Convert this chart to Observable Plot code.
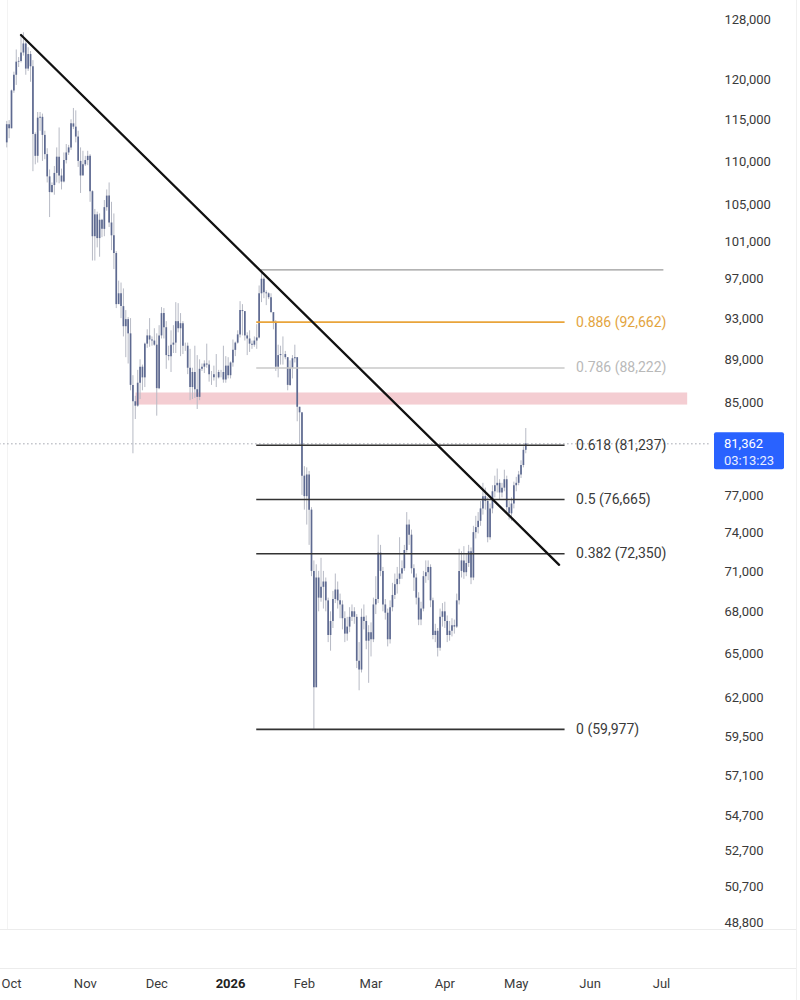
<!DOCTYPE html>
<html><head><meta charset="utf-8">
<script src="https://cdn.jsdelivr.net/npm/d3@7"></script>
<script src="https://cdn.jsdelivr.net/npm/@observablehq/plot@0.6"></script>
<style>body{margin:0;background:#fff;font-family:Roboto,sans-serif}</style>
</head><body><div id="chart"></div>
<script>
// Daily BTC candles (thousands USD), Sep 29 2025 .. May 5 2026
const firstDay = "2025-09-29";
const firstOpen = 112.2;
const closes = [
114.4,113.9,
118.6,120.6,122.3,122.4,123.5,124.7,121.4,123.3,121.7,113.2,110.6,115.2,115.3,113.1,110.8,108.2,106.4,107.2,108.6,110.5,108.3,107.6,110.1,111.0,111.6,114.5,114.1,112.9,110.0,108.3,109.6,
110.1,110.6,106.5,101.5,103.9,101.3,103.3,102.3,104.7,106.0,103.0,101.6,99.7,94.4,95.5,94.2,92.2,92.9,91.5,86.6,85.1,84.7,86.8,88.3,87.3,90.5,91.3,90.9,90.8,90.4,
86.3,91.3,93.5,92.1,89.4,89.3,90.4,90.6,92.7,92.0,92.5,90.3,90.3,88.2,86.4,87.8,86.2,85.5,88.1,88.3,88.6,88.5,87.6,87.6,87.3,87.3,87.8,87.8,87.1,88.4,87.5,
88.7,89.9,90.6,91.4,93.8,93.7,91.3,91.0,90.5,90.4,90.8,91.1,95.5,97.0,95.6,95.5,95.1,93.6,92.6,88.3,89.4,89.5,89.5,89.2,86.6,88.2,89.1,89.2,84.6,84.1,78.6,
76.9,78.7,75.8,71.0,62.7,70.5,69.0,69.8,70.2,68.8,66.3,67.3,68.9,69.6,68.8,68.5,67.5,66.4,66.9,67.6,68.0,67.6,64.5,63.9,67.6,67.3,65.9,66.5,
66.0,68.5,68.9,72.4,71.0,68.5,67.9,66.0,68.3,69.2,70.0,70.4,70.8,71.2,72.6,74.6,73.8,71.2,70.5,69.0,67.4,68.2,70.6,70.9,71.3,68.8,66.3,66.6,65.4,67.6,68.0,
67.3,66.3,66.6,67.0,66.9,68.8,71.0,71.8,70.9,71.6,72.5,70.5,74.0,74.4,74.9,75.9,76.9,76.5,73.6,75.9,77.3,77.8,78.0,77.2,77.6,78.3,76.0,75.5,76.3,77.8,
78.0,78.7,79.5,80.8,81.362];
const highs = [
114.8,114.9,
118.7,121.0,123.9,122.9,125.7,126.2,125.0,124.2,123.7,122.5,113.4,115.9,115.9,115.7,113.6,111.5,109.0,107.5,109.4,111.6,114.0,109.1,111.0,112.0,111.9,115.0,116.4,116.1,113.6,111.6,111.2,
110.6,111.2,110.8,106.6,104.5,104.2,104.0,103.4,105.5,106.7,107.5,105.3,104.0,99.9,96.8,96.6,96.0,93.8,93.1,93.0,87.5,85.6,88.0,89.0,88.5,90.6,91.9,93.0,91.2,92.0,
91.5,92.3,94.1,94.0,92.7,90.3,91.8,92.3,94.6,94.5,93.5,92.7,90.6,90.6,90.0,88.2,90.3,89.4,89.0,88.6,88.9,90.5,88.9,87.9,88.4,89.5,88.0,88.0,90.3,89.3,89.2,
88.8,90.9,90.7,91.8,94.7,94.4,93.7,91.6,91.8,90.8,91.2,92.4,96.3,97.96,97.2,95.8,95.6,95.5,93.5,92.8,90.4,90.3,91.2,89.8,89.2,88.9,89.4,90.4,89.2,84.6,84.0,
79.4,79.3,79.0,76.0,71.8,71.5,71.0,72.0,71.0,70.5,69.0,68.0,69.5,70.8,70.2,69.3,68.8,68.0,67.6,68.3,68.5,68.3,67.8,65.8,68.2,68.5,67.7,67.0,
67.2,69.0,70.6,73.8,73.0,71.3,68.9,68.2,68.8,70.1,70.8,71.3,73.6,71.8,73.0,75.6,75.0,74.2,71.5,70.8,69.4,68.7,71.0,71.8,71.8,71.5,69.0,67.1,66.8,68.2,68.6,
68.7,67.7,67.3,67.5,67.4,69.3,72.7,72.5,72.9,72.3,73.0,72.8,74.5,75.3,75.6,76.5,78.0,77.6,76.8,76.3,77.8,78.6,79.2,78.3,78.0,79.1,78.6,76.5,76.8,78.1,
78.5,79.0,79.9,81.1,82.7];
const lows = [
111.6,112.7,
113.9,118.3,119.3,121.6,122.2,123.1,120.6,121.1,119.7,108.8,109.6,109.8,113.6,110.0,110.2,107.5,103.6,106.3,106.1,107.5,107.4,106.7,107.5,109.7,110.7,111.3,113.8,112.2,109.3,106.3,108.4,
109.4,109.5,105.3,98.9,98.9,100.3,99.3,101.4,101.5,104.3,102.5,100.0,98.0,94.0,94.6,93.0,91.2,89.2,88.6,86.1,80.5,83.5,84.6,85.3,86.1,86.4,90.1,90.2,90.3,90.3,
83.8,86.2,91.0,91.0,88.1,88.9,87.8,89.6,89.6,91.6,89.3,89.5,89.8,87.6,85.2,85.3,85.4,84.4,85.2,87.9,87.7,88.2,86.9,86.6,87.0,86.4,87.2,87.3,86.8,86.8,87.2,
87.2,88.3,89.3,90.5,91.1,91.3,90.8,89.4,89.7,90.0,90.2,90.0,91.0,94.6,95.0,94.3,94.9,93.5,91.9,87.9,87.3,88.5,88.5,89.0,86.1,86.5,87.2,88.7,83.3,81.2,77.0,
75.8,74.6,73.0,70.6,59.98,63.0,68.0,68.7,68.2,68.0,65.8,65.2,66.8,68.6,68.2,67.5,66.7,65.8,65.9,66.5,67.3,67.1,64.0,62.5,63.7,66.7,65.3,63.0,
64.8,65.8,67.8,68.6,70.6,68.0,67.4,65.5,65.7,68.0,68.9,69.3,70.0,70.4,71.0,72.4,73.0,70.8,69.5,68.5,67.0,67.0,68.0,70.1,70.3,68.3,66.0,65.8,64.8,65.2,66.9,
66.8,65.8,65.9,66.2,66.4,66.8,68.5,70.5,70.4,70.6,71.3,70.0,70.3,73.5,73.9,74.5,75.4,75.8,73.2,73.4,75.5,76.8,77.2,76.6,76.8,77.3,75.6,75.0,74.9,75.9,
77.3,77.8,78.4,79.3,80.5];

// Fibonacci retracement levels
const fibRatios = ["0.886", "0.786", "0.618", "0.5", "0.382", "0"];
const fibValues = [92662, 88222, 81237, 76665, 72350, 59977];
const fibColors = ["#e9a43a", "#c9c9c9", "#333333", "#333333", "#333333", "#333333"];
const fibLabelColors = ["#e3a43e", "#b9b9b9", "#3a3a3a", "#3a3a3a", "#3a3a3a", "#3a3a3a"];
const fibTop = 97964;
const fibStart = "2026-01-12";
const fibEnd = "2026-05-21T12:00Z";
const fibTopStart = "2026-01-14";
const fibTopEnd = "2026-07-02";

// Resistance zone
const zoneLow = 84800, zoneHigh = 85900;
const zoneStart = "2025-11-22T06:00Z", zoneEnd = "2026-07-12";

// Descending trendline
const trendDates = ["2025-10-05", "2026-05-19"];
const trendValues = [125900, 71500];

// Current price
const lastPrice = 81362;
const countdown = "03:13:23";

// Axes
const yTicks = [128000,120000,115000,110000,105000,101000,97000,93000,89000,85000,77000,74000,71000,68000,65000,62000,59500,57100,54700,52700,50700,48800];
const monthTicks = ["2025-10-01","2025-11-01","2025-12-01","2026-02-01","2026-03-01","2026-04-01","2026-05-01","2026-06-01","2026-07-01"];
const yearTick = ["2026-01-01"];
const yearLabel = "2026";

// ---- build ----
const t0 = new Date(firstDay + "T00:00Z").getTime();
const candles = closes.map((c, i) => ({
  date: new Date(t0 + i * 864e5),
  open: (i === 0 ? firstOpen : closes[i - 1]) * 1000,
  close: c * 1000,
  high: highs[i] * 1000,
  low: lows[i] * 1000
}));
const D = s => new Date(s.length <= 10 ? s + "T00:00Z" : s);
const fibs = fibValues.map((v, i) => ({
  value: v, ratio: fibRatios[i], color: fibColors[i], lcolor: fibLabelColors[i],
  label: `${fibRatios[i]} (${d3.format(",")(v)})`
}));
const trend = trendDates.map((d, i) => ({date: D(d), value: trendValues[i]}));

const chart = Plot.plot({
  width: 800, height: 1000,
  marginLeft: 0, marginRight: 80, marginTop: 0, marginBottom: 30,
  style: {fontFamily: "Roboto, sans-serif", background: "#fff", overflow: "visible"},
  x: {type: "utc", domain: [D("2025-10-01"), D("2026-07-01")], range: [11, 661], label: null},
  y: {type: "log", domain: [48800, 128000], range: [922, 19], label: null},
  color: {type: "identity"},
  marks: [
    Plot.rect([{}], {x1: D(zoneStart), x2: D(zoneEnd), y1: zoneLow, y2: zoneHigh, fill: "#f4cdd2"}),
    Plot.ruleY([lastPrice], {x1: D("2025-09-26"), x2: D("2026-07-22"), stroke: "#a0a4ad", strokeWidth: 1, strokeDasharray: "1.5,2.5"}),
    Plot.ruleX(candles, {x: "date", y1: "low", y2: "high", stroke: "#b7bac5", strokeWidth: 1}),
    Plot.ruleX(candles, {x: "date", y1: "open", y2: "close", stroke: "#5e6a91", strokeWidth: 1.7}),
    Plot.ruleY([fibTop], {x1: D(fibTopStart), x2: D(fibTopEnd), stroke: "#9a9a9a", strokeWidth: 1.2}),
    Plot.ruleY(fibs, {y: "value", x1: D(fibStart), x2: D(fibEnd), stroke: "color", strokeWidth: d => d.ratio === "0.886" ? 1.8 : 1.6}),
    Plot.text(fibs, {y: "value", x: () => D(fibEnd), text: "label", fill: "lcolor", dx: 11, textAnchor: "start", fontSize: 14}),
    Plot.line(trend, {x: "date", y: "value", stroke: "#111", strokeWidth: 2.3}),
    Plot.axisY(yTicks, {anchor: "right", tickSize: 0, tickPadding: 4, tickFormat: d3.format(","), fontSize: 13, fill: "#3a3a3a", label: null}),
    Plot.axisX(monthTicks.map(D), {tickSize: 0, tickPadding: 8, tickFormat: d3.utcFormat("%b"), fontSize: 13, fill: "#3a3a3a", label: null}),
    Plot.axisX(yearTick.map(D), {tickSize: 0, tickPadding: 8, tickFormat: () => yearLabel, fontSize: 13, fontWeight: "bold", fill: "#222", label: null})
  ]
});

// pane decorations and last-price tag
const svg = d3.select(chart);
const yp = chart.scale("y").apply(lastPrice);
const deco = svg.insert("g", ":first-child");
deco.append("line").attr("x1", 0).attr("x2", 797).attr("y1", 929.5).attr("y2", 929.5).attr("stroke", "#ececec");
deco.append("line").attr("x1", 0).attr("x2", 797).attr("y1", 968.5).attr("y2", 968.5).attr("stroke", "#ececec");
deco.append("line").attr("x1", 796.5).attr("x2", 796.5).attr("y1", 0).attr("y2", 1000).attr("stroke", "#f0f0f0");
deco.append("line").attr("x1", 7.5).attr("x2", 7.5).attr("y1", 0).attr("y2", 929).attr("stroke", "#f3f3f3");
const tag = svg.append("g").attr("text-anchor", "start");
tag.append("rect").attr("x", 714).attr("y", yp - 11).attr("width", 70).attr("height", 37).attr("rx", 2).attr("fill", "#2962ff");
tag.append("text").attr("x", 724).attr("y", yp).attr("dy", "0.35em").attr("text-anchor", "start").attr("fill", "#fff").attr("font-size", 13).text(d3.format(",")(lastPrice));
tag.append("text").attr("x", 724).attr("y", yp + 17).attr("dy", "0.35em").attr("text-anchor", "start").attr("fill", "#e8eeff").attr("font-size", 13).text(countdown);

document.getElementById("chart").append(chart);
</script></body></html>
